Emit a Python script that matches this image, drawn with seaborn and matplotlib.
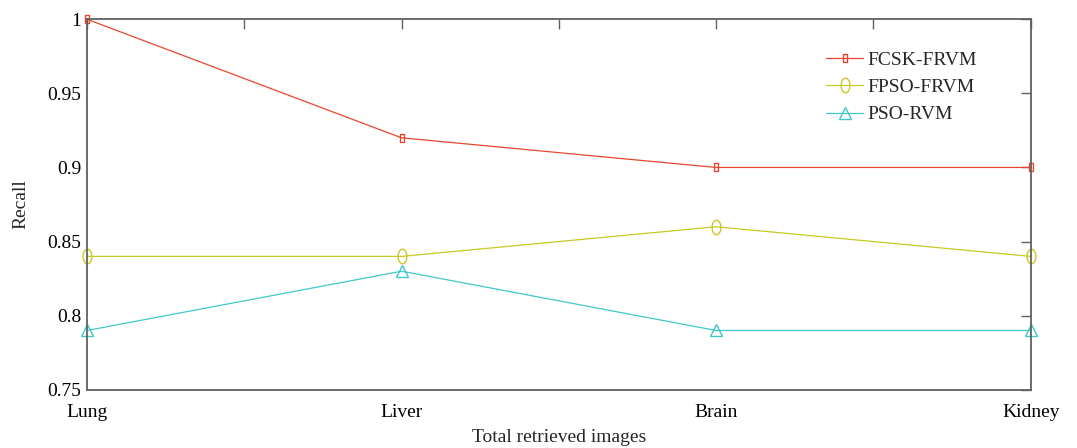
import numpy as np
import pandas as pd
import matplotlib
matplotlib.use('Agg')
import matplotlib.pyplot as plt
import seaborn as sns

sns.set_style('white')
plt.rcParams['font.family'] = ['Liberation Serif', 'DejaVu Serif']
plt.rcParams['font.size'] = 14

organs = ['Lung', 'Liver', 'Brain', 'Kidney']
fcsk_frvm = [1.00, 0.92, 0.90, 0.90]
fpso_frvm = [0.84, 0.84, 0.86, 0.84]
pso_rvm = [0.79, 0.83, 0.79, 0.79]
methods = ['FCSK-FRVM', 'FPSO-FRVM', 'PSO-RVM']

df = pd.DataFrame({
    'x': list(range(len(organs))) * 3,
    'recall': fcsk_frvm + fpso_frvm + pso_rvm,
    'method': np.repeat(methods, len(organs)),
})

colors = {'FCSK-FRVM': '#e8462e', 'FPSO-FRVM': '#c9c824', 'PSO-RVM': '#40c8c8'}
# tall narrow box, tall ellipse, triangle
t = np.linspace(0, 2 * np.pi, 40)
box = [(-0.22, -0.5), (0.22, -0.5), (0.22, 0.5), (-0.22, 0.5), (-0.22, -0.5)]
ellipse = list(zip(0.3 * np.cos(t), 0.5 * np.sin(t)))
markers = {'FCSK-FRVM': box, 'FPSO-FRVM': ellipse, 'PSO-RVM': '^'}
sizes = {'FCSK-FRVM': 6, 'FPSO-FRVM': 10.5, 'PSO-RVM': 8.5}

fig, ax = plt.subplots(figsize=(10.77, 4.48), dpi=100)
fig.subplots_adjust(left=0.0808, right=0.957, top=0.957, bottom=0.13)

sns.lineplot(data=df, x='x', y='recall', hue='method', style='method',
             palette=colors, markers=markers, dashes=False, lw=0.9,
             legend=False, ax=ax)

for line, m in zip(ax.lines, methods):
    line.set_markerfacecolor('none')
    line.set_markeredgecolor(colors[m])
    line.set_markeredgewidth(1.0)
    line.set_markersize(sizes[m])
    line.set_clip_on(False)

ax.set_xlim(0, 3)
ax.set_ylim(0.75, 1.0)
ax.set_xticks(range(len(organs)))
ax.set_xticklabels(organs)
ax.set_xticks(np.arange(0.5, 3, 1), minor=True)
ax.set_yticks(np.arange(0.75, 1.001, 0.05))
ax.set_yticklabels(['%g' % round(v, 2) for v in np.arange(0.75, 1.001, 0.05)])

for s in ax.spines.values():
    s.set_visible(True)
    s.set_color('#606060')
    s.set_linewidth(1.3)
ax.tick_params(which='both', direction='in', top=True, right=True, length=7,
               width=1.0, color='#606060', labelcolor='black', labelsize=14)
ax.tick_params(axis='x', which='both', pad=10)
ax.tick_params(axis='y', pad=4)

ax.set_xlabel('Total retrieved images', fontsize=14, labelpad=6)
ax.set_ylabel('Recall', fontsize=14, labelpad=13)

ax.legend(ax.lines, methods, loc='upper left', bbox_to_anchor=(0.775, 0.935),
          frameon=False, fontsize=14, handlelength=1.9, handletextpad=0.2,
          labelspacing=0.5, borderaxespad=0)

plt.savefig('out.png', dpi=100)
